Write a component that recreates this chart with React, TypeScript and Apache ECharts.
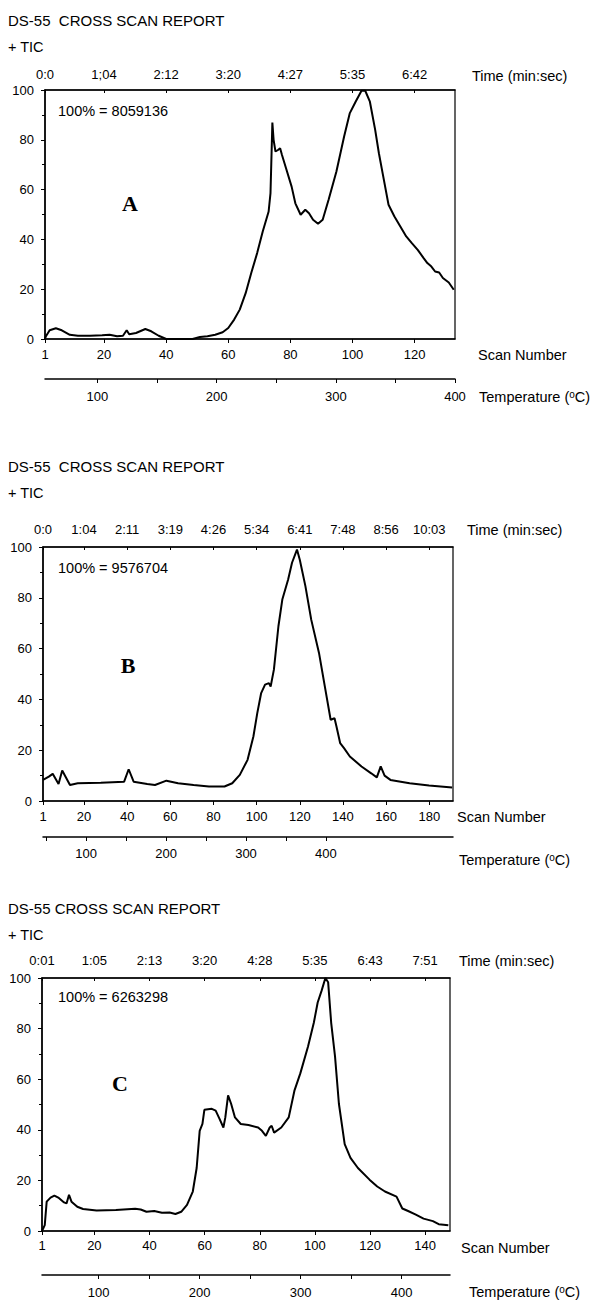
import React, { useEffect, useRef } from "react";
import * as echarts from "echarts";

// ---------- DATA ----------
// Panel A
const scansA = [1, 1.3, 2.5, 4.5, 6.4, 9, 11.6, 15.5, 19.4, 21.8, 24.2, 26.1, 27.3, 28.1, 30.3, 33.3, 35.2, 37.6, 40, 43.6, 48.5, 50.9, 53.3, 55.8, 58.2, 60, 61.9, 63.7, 65.6, 67.4, 69.3, 71.1, 73, 73.6, 74, 74.2, 74.6, 75.2, 76, 76.7, 77.3, 78.6, 80.4, 81.6, 83.3, 84.8, 86, 87.3, 88.9, 90.4, 92.3, 94.8, 97.3, 99.1, 101, 102.9, 104.1, 105.6, 107.3, 108.5, 109.8, 111.6, 113.5, 115.4, 117.3, 119.1, 121, 122.9, 124.1, 125.4, 126.6, 127.9, 129.1, 131, 132.6];
const ticA = [0, 1.1, 3.5, 4.3, 3.5, 1.7, 1.3, 1.3, 1.5, 1.7, 1.1, 1.3, 3.5, 1.9, 2.4, 4.0, 3.1, 1.3, 0, 0, 0, 0.8, 1.1, 1.7, 2.7, 4.4, 7.8, 11.8, 18.4, 26.5, 34.5, 43.2, 51.2, 58.6, 77.3, 86.9, 80, 75.3, 75.9, 76.6, 73.9, 68.6, 61.2, 54.5, 49.9, 51.9, 50.5, 47.9, 46.3, 47.9, 55.9, 67.2, 81.3, 90.6, 95.3, 99.7, 99.7, 95.3, 84, 74.6, 65.9, 53.9, 49.2, 45.2, 41.2, 38.5, 35.8, 32.5, 30.5, 29.1, 27.1, 26.7, 24.5, 22.7, 19.8];
const scanTicksA = [1, 20, 40, 60, 80, 100, 120];
const timeLabelsA = ["0:0", "1;04", "2:12", "3:20", "4:27", "5:35", "6:42"];
const tempTicksA = [100, 150, 200, 250, 300, 350, 400];
const tempLabelsA = [100, 200, 300, 400];
const fullScaleA = "100% = 8059136";

// Panel B
const scansB = [1, 3.7, 5.5, 8.2, 9.9, 13.5, 17.1, 27.8, 38.6, 40.7, 43, 49.3, 52.9, 58.2, 63.6, 70.8, 77.9, 85.1, 88.7, 92.2, 95.8, 98.5, 100.3, 102.1, 103.9, 105.7, 106.5, 108, 110.1, 111.9, 114.6, 116.4, 118.7, 120, 122.6, 125.3, 128.9, 131.6, 134.3, 136.1, 137, 138.7, 140.5, 143.2, 148.6, 153.1, 155.7, 157.5, 159.3, 162, 170.9, 179.9, 190.6];
const ticB = [8.3, 9.6, 10.7, 6.7, 12, 6.3, 7, 7.2, 7.6, 12.5, 7.6, 6.7, 6.3, 8, 7, 6.3, 5.7, 5.7, 7, 10.3, 16.2, 25.4, 34.6, 42.5, 45.8, 46.4, 45.1, 51.7, 68.8, 79.3, 87.2, 93.8, 99, 95, 84.6, 71.4, 58.3, 45.1, 32, 32.6, 29.3, 22.8, 20.8, 17.5, 13.6, 10.9, 9.3, 13.6, 10, 8.3, 7, 6.1, 5.3];
const scanTicksB = [1, 20, 40, 60, 80, 100, 120, 140, 160, 180];
const timeLabelsB = ["0:0", "1:04", "2:11", "3:19", "4:26", "5:34", "6:41", "7:48", "8:56", "10:03"];
const tempTicksB = [50, 100, 150, 200, 250, 300, 350, 400];
const tempLabelsB = [100, 200, 300, 400];
const fullScaleB = "100% = 9576704";

// Panel C
const scansC = [1, 1.3, 2, 2.7, 4.1, 5.5, 6.9, 9, 9.9, 10.8, 11.7, 13.8, 15.9, 20.8, 27.8, 34.8, 36.8, 38.9, 41.7, 44.5, 47.3, 49.4, 51.5, 53.6, 55.7, 57.1, 58.2, 59.2, 59.9, 62.6, 64, 65.4, 66.8, 67.5, 68.5, 69.6, 71, 73.1, 75.9, 79.4, 80.8, 82.2, 83.6, 84.3, 85.2, 87.8, 90.5, 92.6, 94.7, 97.5, 99.6, 101, 102.4, 103.8, 104.8, 105.9, 107.3, 108.7, 110.8, 112.9, 115.6, 119.8, 122.6, 125.4, 129.6, 131.7, 133.8, 136.6, 139.4, 142.8, 144.9, 148.4];
const ticC = [0, 0.7, 2.3, 11.6, 13.2, 14, 13.2, 11.3, 10.9, 14.3, 11.6, 9.6, 8.7, 8.1, 8.3, 8.8, 8.5, 7.6, 7.9, 7.2, 7.3, 6.7, 7.6, 10.3, 15.6, 24.9, 39.6, 42.3, 47.9, 48.3, 47.6, 44.3, 40.9, 44.9, 53.6, 50.3, 44.9, 42.3, 41.9, 40.9, 39.6, 37.6, 40.9, 41.6, 38.9, 40.9, 44.9, 55.6, 62.3, 72.9, 82.3, 90.3, 94.9, 100, 98.3, 82.3, 68.9, 50.3, 34.3, 28.9, 24.9, 20.3, 17.6, 15.6, 13.6, 8.9, 7.9, 6.5, 4.9, 3.9, 2.7, 2.3];
const scanTicksC = [1, 20, 40, 60, 80, 100, 120, 140];
const timeLabelsC = ["0:01", "1:05", "2:13", "3:20", "4:28", "5:35", "6:43", "7:51"];
const tempTicksC = [100, 150, 200, 250, 300, 350, 400];
const tempLabelsC = [100, 200, 300, 400];
const fullScaleC = "100% = 6263298";

const yTicks = [0, 20, 40, 60, 80, 100];

// ---------- LAYOUT ----------
const FONT = '"Liberation Sans", Arial, Helvetica, sans-serif';
const SERIF = '"Liberation Serif", "Times New Roman", serif';

const panels = [
  {
    letter: "A", title: "DS-55  CROSS SCAN REPORT", scans: scansA, tic: ticA,
    scanTicks: scanTicksA, timeLabels: timeLabelsA, tempTicks: tempTicksA, tempLabels: tempLabelsA,
    fullScale: fullScaleA, scanMax: 133, tempMin: 56, tempMax: 400,
    grid: { left: 45, top: 90, width: 410, height: 249 }, tempOffset: 40,
    titleY: 20, ticY: 47, timeNameX: 472, timeNameY: 76, timeMargin: 9,
    scanNameX: 478, scanNameY: 355, tempNameX: 479, tempNameY: 397, tempMargin: 11,
    fsY: 111, letterX: 130, letterY: 203, scanMargin: 9,
  },
  {
    letter: "B", title: "DS-55  CROSS SCAN REPORT", scans: scansB, tic: ticB,
    scanTicks: scanTicksB, timeLabels: timeLabelsB, tempTicks: tempTicksB, tempLabels: tempLabelsB,
    fullScale: fullScaleB, scanMax: 191, tempMin: 46, tempMax: 559,
    grid: { left: 43, top: 547, width: 410, height: 254 }, tempOffset: 36,
    titleY: 466, ticY: 493, timeNameX: 467, timeNameY: 530, timeMargin: 11,
    scanNameX: 457, scanNameY: 817, tempNameX: 459, tempNameY: 860, tempMargin: 10,
    fsY: 568, letterX: 128, letterY: 665, scanMargin: 9,
  },
  {
    letter: "C", title: "DS-55 CROSS SCAN REPORT", scans: scansC, tic: ticC,
    scanTicks: scanTicksC, timeLabels: timeLabelsC, tempTicks: tempTicksC, tempLabels: tempLabelsC,
    fullScale: fullScaleC, scanMax: 149, tempMin: 44, tempMax: 448,
    grid: { left: 42, top: 978, width: 408, height: 253 }, tempOffset: 44,
    titleY: 908, ticY: 935, timeNameX: 459, timeNameY: 961, timeMargin: 11,
    scanNameX: 461, scanNameY: 1248, tempNameX: 469, tempNameY: 1292, tempMargin: 11,
    fsY: 997, letterX: 120, letterY: 1083, scanMargin: 8,
  },
];

const black = "#000";
const labelStyle = { color: black, fontSize: 13, fontFamily: FONT };

function buildOption() {
  const grid: any[] = [];
  const xAxis: any[] = [];
  const yAxis: any[] = [];
  const series: any[] = [];
  const graphic: any[] = [];

  panels.forEach((p, i) => {
    grid.push({ ...p.grid, show: true, borderColor: black, borderWidth: 1.2, backgroundColor: "transparent" });
    // scan axis
    xAxis.push({
      type: "value", gridIndex: i, position: "bottom", min: 1, max: p.scanMax,
      axisLine: { show: true, onZero: false, lineStyle: { color: black, width: 1.5 } },
      axisTick: { show: true, customValues: p.scanTicks, length: 4, lineStyle: { color: black } },
      axisLabel: { ...labelStyle, customValues: p.scanTicks, margin: p.scanMargin },
      splitLine: { show: false },
    });
    // time axis
    xAxis.push({
      type: "value", gridIndex: i, position: "top", min: 1, max: p.scanMax,
      axisLine: { show: true, onZero: false, lineStyle: { color: black, width: 1.5 } },
      axisTick: { show: true, customValues: p.scanTicks, length: 3, inside: true, lineStyle: { color: black } },
      axisLabel: {
        ...labelStyle, customValues: p.scanTicks, margin: p.timeMargin,
        formatter: (v: number) => {
          const k = p.scanTicks.indexOf(v);
          return k >= 0 ? p.timeLabels[k] : "";
        },
      },
      splitLine: { show: false },
    });
    // temperature axis
    xAxis.push({
      type: "value", gridIndex: i, position: "bottom", offset: p.tempOffset,
      min: p.tempMin, max: p.tempMax,
      axisLine: { show: true, onZero: false, lineStyle: { color: black, width: 1.5 } },
      axisTick: { show: true, customValues: p.tempTicks, length: 4, lineStyle: { color: black } },
      axisLabel: { ...labelStyle, customValues: p.tempLabels, margin: p.tempMargin },
      splitLine: { show: false },
    });
    yAxis.push({
      type: "value", gridIndex: i, min: 0, max: 100, interval: 20,
      axisLine: { show: true, onZero: false, lineStyle: { color: black, width: 1.5 } },
      axisTick: { show: true, length: 4, lineStyle: { color: black } },
      minorTick: { show: true, splitNumber: 2, length: 3, lineStyle: { color: black } },
      axisLabel: { ...labelStyle, margin: 11, customValues: yTicks },
      splitLine: { show: false },
      minorSplitLine: { show: false },
    });
    series.push({
      type: "line", xAxisIndex: i * 3, yAxisIndex: i,
      data: p.scans.map((s, k) => [s, p.tic[k]]),
      showSymbol: false, symbol: "none",
      lineStyle: { color: black, width: 2 },
      clip: true,
    });

    const txt = (x: number, y: number, text: string, extra: any = {}) => ({
      type: "text", x, y, silent: true,
      style: { text, fill: black, font: `14.5px ${FONT}`, align: "left", verticalAlign: "middle", ...extra },
    });
    graphic.push(txt(8, p.titleY, p.title, { font: `15px ${FONT}` }));
    graphic.push(txt(8, p.ticY, "+ TIC"));
    graphic.push(txt(p.timeNameX, p.timeNameY, "Time (min:sec)"));
    graphic.push(txt(p.scanNameX, p.scanNameY, "Scan Number"));
    graphic.push({
      type: "text", x: p.tempNameX, y: p.tempNameY, silent: true,
      style: {
        text: "Temperature ({sup|o}C)", fill: black, font: `14.5px ${FONT}`,
        align: "left", verticalAlign: "middle",
        rich: { sup: { fontSize: 10, fontFamily: FONT, fill: black, verticalAlign: "top", lineHeight: 16 } },
      },
    });
    graphic.push(txt(58, p.fsY, p.fullScale));
    graphic.push({
      type: "text", x: p.letterX, y: p.letterY, silent: true,
      style: { text: p.letter, fill: black, font: `bold 22px ${SERIF}`, align: "center", verticalAlign: "middle" },
    });
  });

  return { animation: false, backgroundColor: "#fff", grid, xAxis, yAxis, series, graphic };
}

export default function App() {
  const ref = useRef<HTMLDivElement>(null);
  useEffect(() => {
    document.body.style.margin = "0";
    if (!ref.current) return;
    const chart = echarts.init(ref.current, null, { renderer: "svg" });
    chart.setOption(buildOption() as any);
    return () => chart.dispose();
  }, []);
  return <div ref={ref} style={{ width: 605, height: 1302, position: "absolute", left: 0, top: 0 }} />;
}
